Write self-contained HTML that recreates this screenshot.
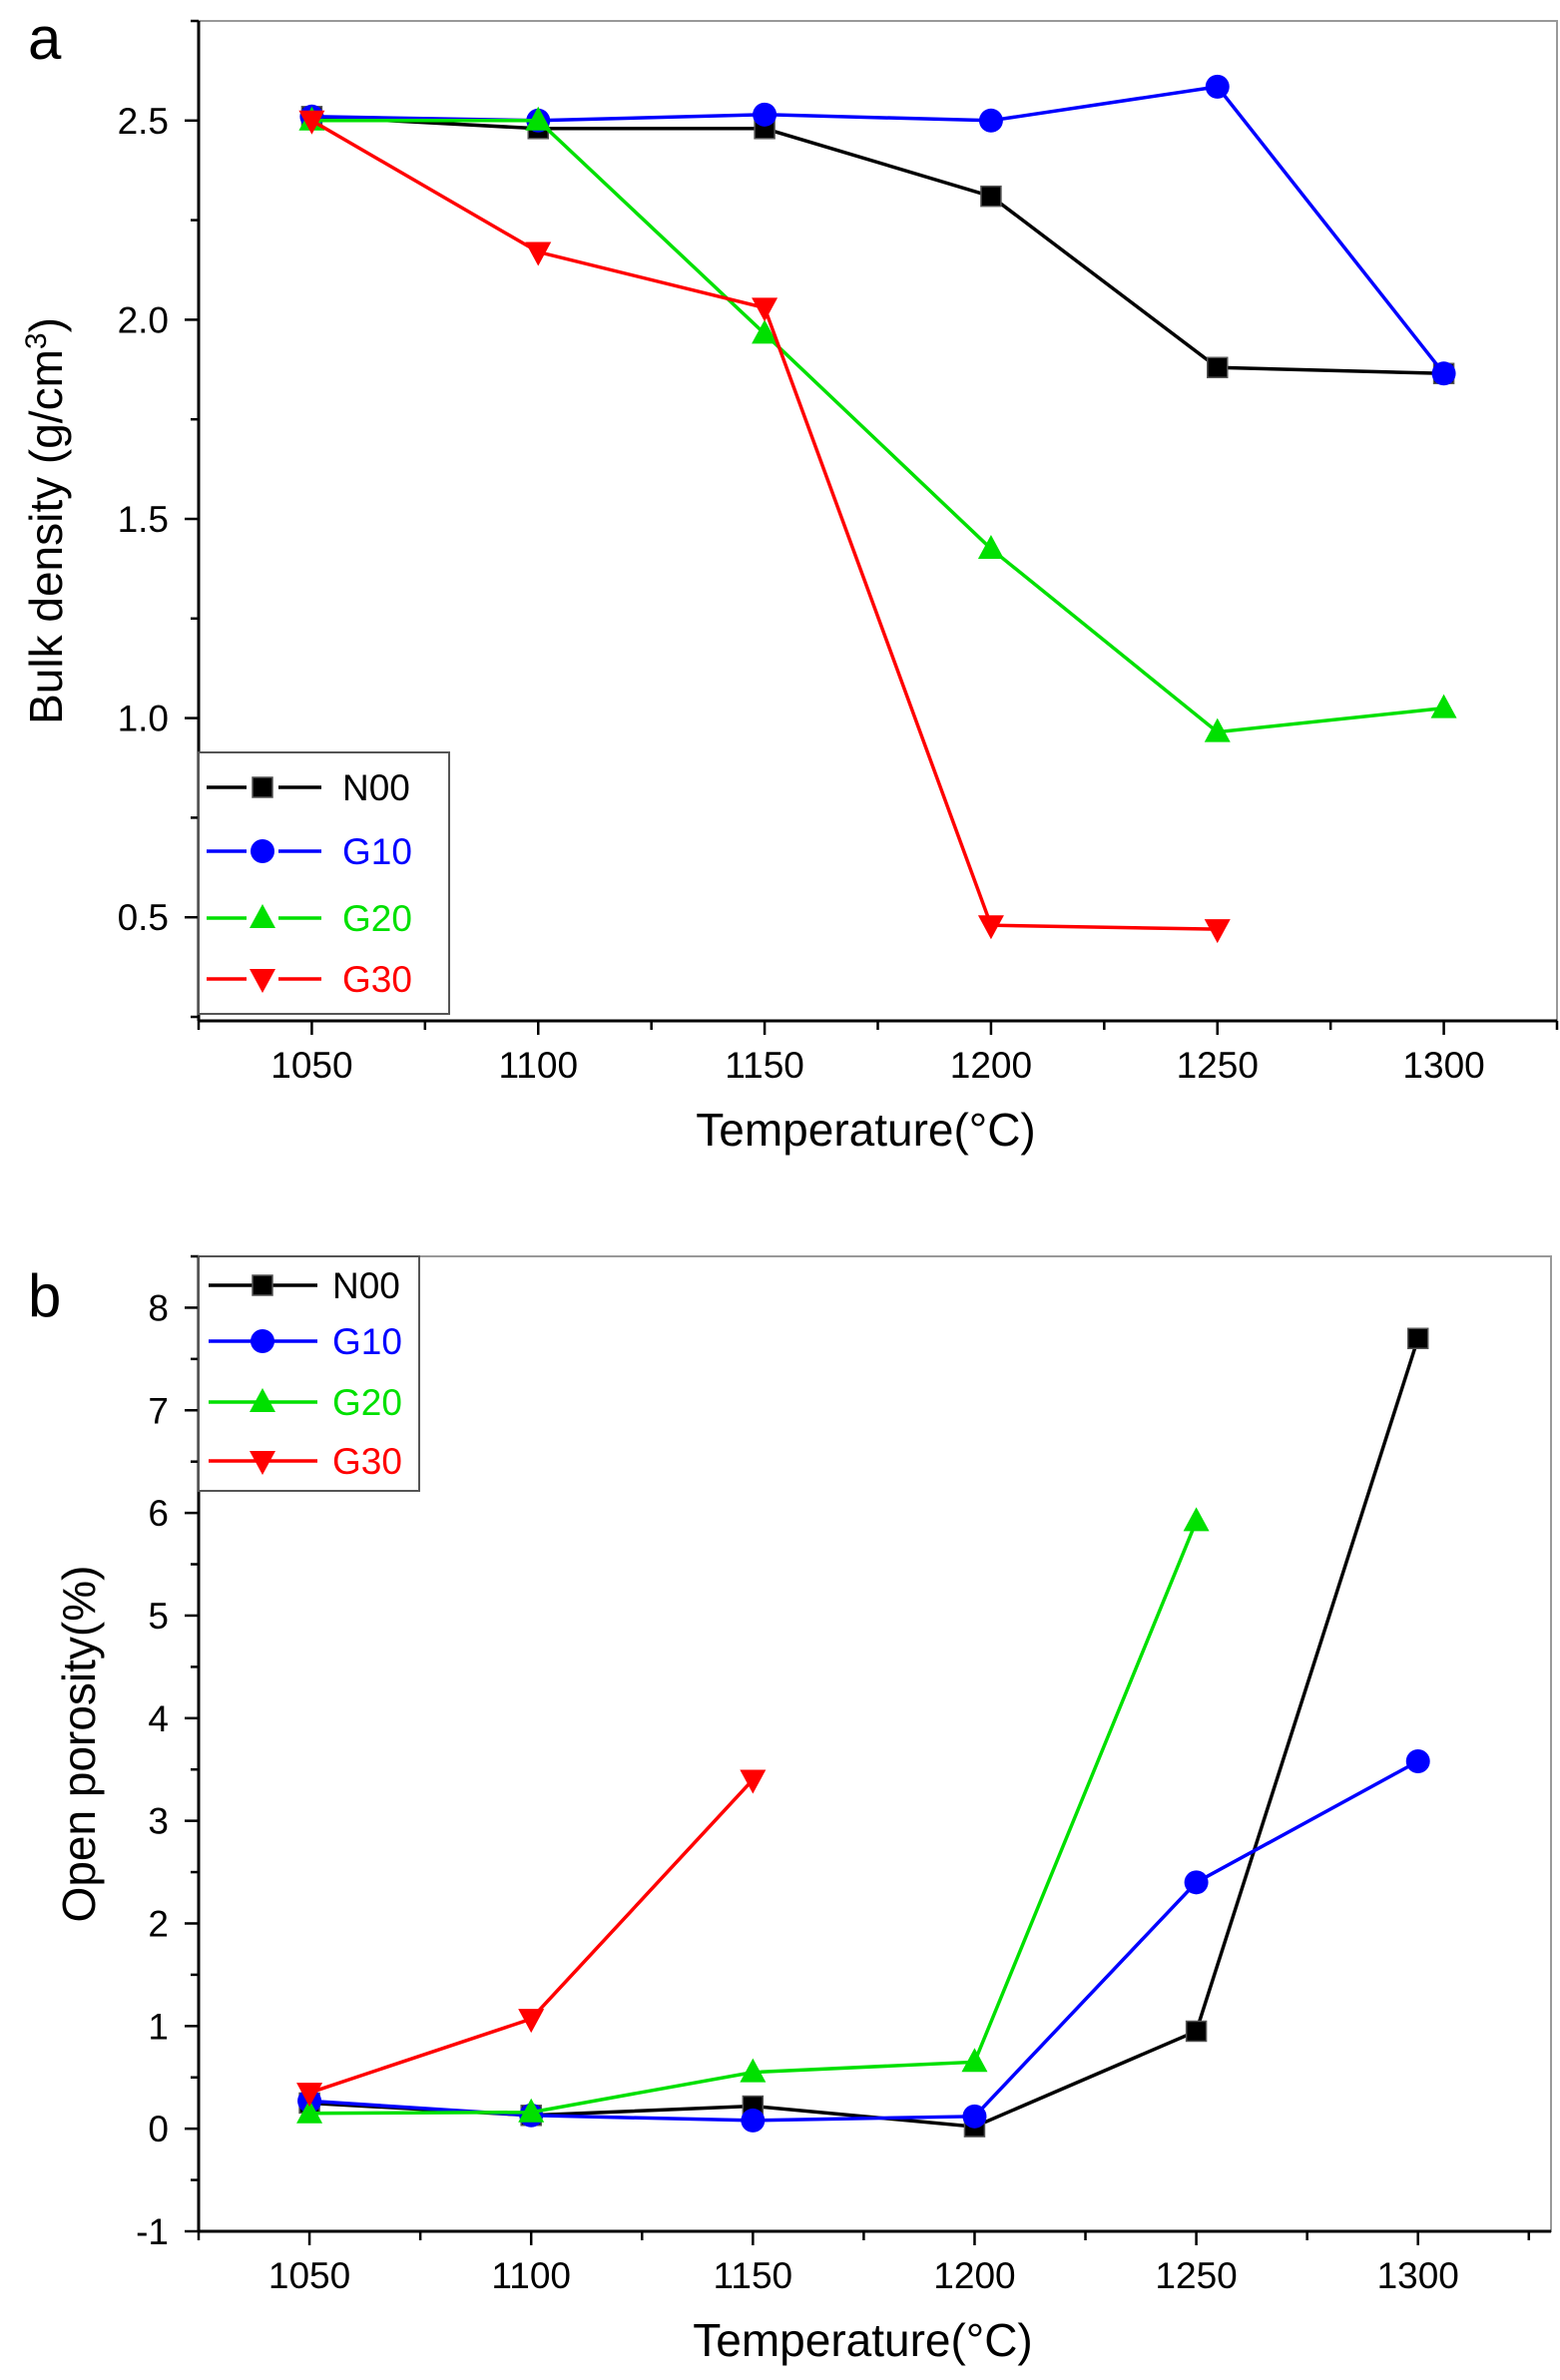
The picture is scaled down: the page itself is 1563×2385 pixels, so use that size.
<!DOCTYPE html>
<html><head><meta charset="utf-8"><style>
html,body{margin:0;padding:0;background:#fff}
svg{display:block;font-family:"Liberation Sans",sans-serif}
</style></head><body>
<svg id="chart" width="1563" height="2385" viewBox="0 0 1563 2385" xmlns="http://www.w3.org/2000/svg"></svg>
<script>
const temps = [1050, 1100, 1150, 1200, 1250, 1300];
const seriesNames = ["N00", "G10", "G20", "G30"];
const densityN00 = [2.51, 2.48, 2.48, 2.31, 1.88, 1.865];
const densityG10 = [2.51, 2.50, 2.515, 2.50, 2.585, 1.865];
const densityG20 = [2.50, 2.50, 1.965, 1.425, 0.965, 1.025];
const densityG30 = [2.50, 2.17, 2.03, 0.48, 0.47];
const porosityN00 = [0.25, 0.13, 0.22, 0.02, 0.95, 7.7];
const porosityG10 = [0.27, 0.13, 0.08, 0.12, 2.4, 3.58];
const porosityG20 = [0.15, 0.16, 0.55, 0.65, 5.92];
const porosityG30 = [0.35, 1.07, 3.4];
const xTickLabels = ["1050", "1100", "1150", "1200", "1250", "1300"];
const densityTicks = ["0.5", "1.0", "1.5", "2.0", "2.5"];
const porosityTicks = ["-1", "0", "1", "2", "3", "4", "5", "6", "7", "8"];

const colors = ["#000000", "#0000ff", "#00e000", "#ff0000"];
const markers = ["square", "circle", "up", "down"];
const NS = "http://www.w3.org/2000/svg";
const svg = document.getElementById("chart");
function mk(tag, attrs, parent) {
  const e = document.createElementNS(NS, tag);
  for (const k in attrs) e.setAttribute(k, attrs[k]);
  (parent || svg).appendChild(e);
  return e;
}
function marker(g, type, cx, cy, color, s) {
  let m;
  if (type === "square") m = mk("rect", {x: cx - s, y: cy - s, width: 2 * s, height: 2 * s, fill: color, stroke: "#555", "stroke-width": 1.5}, g);
  else if (type === "circle") m = mk("circle", {cx: cx, cy: cy, r: s * 1.2, fill: color}, g);
  else if (type === "up") m = mk("polygon", {points: `${cx},${cy - s * 1.4} ${cx - s * 1.3},${cy + s} ${cx + s * 1.3},${cy + s}`, fill: color}, g);
  else m = mk("polygon", {points: `${cx},${cy + s * 1.4} ${cx - s * 1.3},${cy - s} ${cx + s * 1.3},${cy - s}`, fill: color}, g);
  return m;
}

function panel(cfg) {
  const g = mk("g", {});
  
  
  const X = v => cfg.L + (v - cfg.xmin) / (cfg.xmax - cfg.xmin) * (cfg.R - cfg.L);
  const Y = v => cfg.B - (v - cfg.ymin) / (cfg.ymax - cfg.ymin) * (cfg.B - cfg.T);
  const frame = mk("rect", {x: cfg.L, y: cfg.T, width: cfg.R - cfg.L, height: cfg.B - cfg.T, fill: "none", stroke: "#999", "stroke-width": 2}, g);
  
  
  const xa = mk("line", {x1: cfg.L, y1: cfg.B, x2: cfg.R, y2: cfg.B, stroke: "#000", "stroke-width": 3}, g);
  
  
  const ya = mk("line", {x1: cfg.L, y1: cfg.T, x2: cfg.L, y2: cfg.B, stroke: "#000", "stroke-width": 3}, g);
  
  
  for (let v = 1025; v <= cfg.xmax + 0.1; v += 25) {
    const major = (v % 50 === 0);
    mk("line", {x1: X(v), y1: cfg.B, x2: X(v), y2: cfg.B + (major ? 14 : 9), stroke: "#000", "stroke-width": 2.5}, g);
  }
  xTickLabels.forEach(t => {
    const tx = mk("text", {x: X(+t), y: cfg.B + 57, "font-size": 37, "text-anchor": "middle"}, g);
    tx.textContent = t;
    
    
  });
  for (let v = cfg.yTickStart; v <= cfg.ymax + 1e-6; v += cfg.yMinor) {
    const major = Math.abs(Math.round(v / cfg.yMajor) * cfg.yMajor - v) < 1e-6;
    mk("line", {x1: cfg.L, y1: Y(v), x2: cfg.L - (major ? 14 : 8), y2: Y(v), stroke: "#000", "stroke-width": 2.5}, g);
  }
  cfg.yLabels.forEach(t => {
    const ty = mk("text", {x: cfg.L - 30, y: Y(+t) + 13, "font-size": 37, "text-anchor": "end"}, g);
    ty.textContent = t;
    
    
  });
  const xt = mk("text", {x: (cfg.L + cfg.R) / 2 - 12, y: cfg.B + 125, "font-size": 46, "text-anchor": "middle"}, g);
  xt.textContent = "Temperature(°C)";
  
  
  const yt = mk("text", {x: 0, y: 0, "font-size": 46, "text-anchor": "middle", transform: `translate(${cfg.ytX},${(cfg.T + cfg.B) / 2}) rotate(-90)`}, g);
  yt.innerHTML = cfg.yTitle;
  
  
  const pl = mk("text", {x: 28, y: cfg.T + cfg.letterDy, "font-size": 60}, g);
  pl.textContent = cfg.letter;
  
  
  cfg.data.forEach((arr, i) => {
    const sg = mk("g", {}, g);
    
    
    const pts = arr.map((v, j) => X(temps[j]) + "," + Y(v)).join(" ");
    const ln = mk("polyline", {points: pts, fill: "none", stroke: colors[i], "stroke-width": 3.5}, sg);
    
    
    arr.forEach((v, j) => {
      const m = marker(sg, markers[i], X(temps[j]), Y(v), colors[i], 10);
      
      
    });
  });
  const lg = mk("g", {}, g);
  
  
  const lb = cfg.legend;
  mk("rect", {x: lb.x, y: lb.y, width: lb.w, height: lb.h, fill: "#fff", stroke: "#555", "stroke-width": 2}, lg);
  seriesNames.forEach((n, i) => {
    const eg = mk("g", {}, lg);
    
    
    const y = lb.rows[i];
    if (lb.gap) {
      mk("line", {x1: lb.x + 8, y1: y, x2: lb.mx - 16, y2: y, stroke: colors[i], "stroke-width": 3.5}, eg);
      mk("line", {x1: lb.mx + 16, y1: y, x2: lb.lx2, y2: y, stroke: colors[i], "stroke-width": 3.5}, eg);
    } else {
      mk("line", {x1: lb.x + 10, y1: y, x2: lb.lx2, y2: y, stroke: colors[i], "stroke-width": 3.5}, eg);
    }
    marker(eg, markers[i], lb.mx, y, colors[i], 10);
    const t = mk("text", {x: lb.tx, y: y + 13, "font-size": 37, fill: colors[i]}, eg);
    t.textContent = n;
  });
}

panel({name: "panel-a-bulk-density", L: 199, R: 1560, T: 21, B: 1023, xmin: 1025, xmax: 1325,
  ymin: 0.24, ymax: 2.75, yTickStart: 0.25, yMinor: 0.25, yMajor: 0.5, yLabels: densityTicks,
  ytX: 62, yTitle: 'Bulk density (g/cm<tspan dy="-16" font-size="30">3</tspan><tspan dy="16">)</tspan>',
  letter: "a", letterDy: 38,
  data: [densityN00, densityG10, densityG20, densityG30],
  legend: {x: 199, y: 754, w: 251, h: 262, rows: [789, 853, 920, 981], mx: 263, lx2: 322, tx: 343, gap: true}});

panel({name: "panel-b-open-porosity", L: 199, R: 1554, T: 1259, B: 2236, xmin: 1025, xmax: 1330,
  ymin: -1, ymax: 8.5, yTickStart: -1, yMinor: 0.5, yMajor: 1, yLabels: porosityTicks,
  ytX: 95, yTitle: 'Open porosity(%)',
  letter: "b", letterDy: 60,
  data: [porosityN00, porosityG10, porosityG20, porosityG30],
  legend: {x: 199, y: 1259, w: 221, h: 235, rows: [1288, 1344, 1405, 1464], mx: 263, lx2: 318, tx: 333, gap: false}});
</script>
</body></html>
